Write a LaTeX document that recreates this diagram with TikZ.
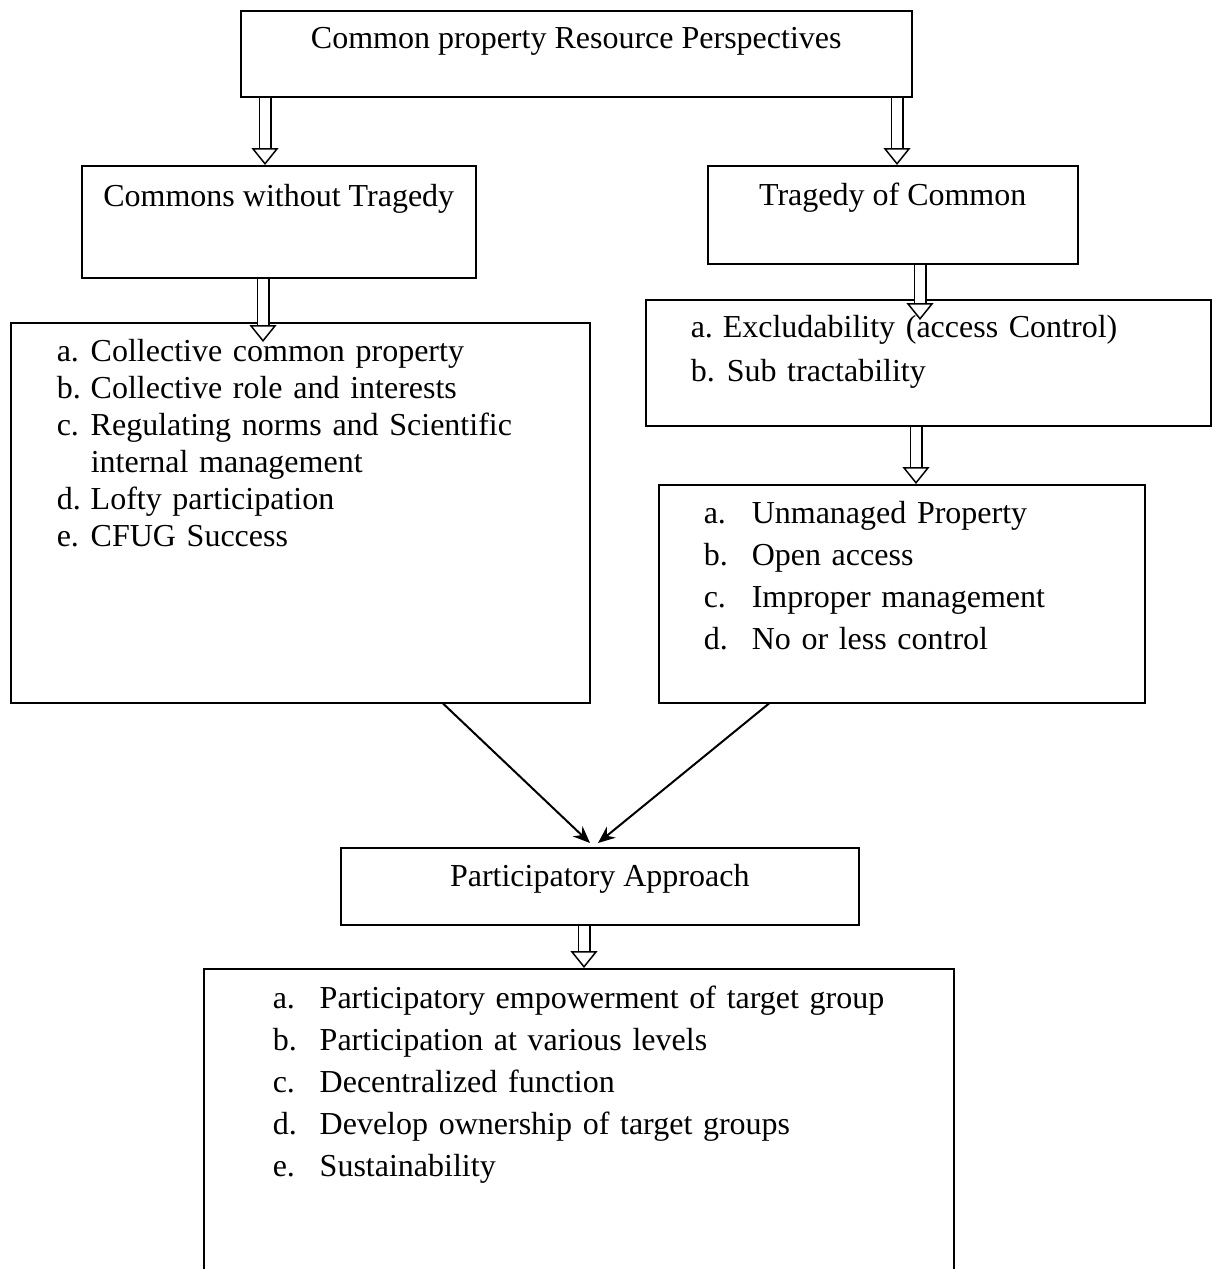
\documentclass[tikz,border=0pt]{standalone}
\usepackage{fontspec}
\setmainfont{Liberation Serif}
\usetikzlibrary{arrows.meta, positioning}
\tikzset{
	box/.style    ={rectangle, draw=black, line width=1.5pt, inner sep=0pt, anchor=north west},
	listbox/.style={box, inner ysep=0pt},
	hollow/.style ={double, double distance=10pt, line width=1.5pt, -{Triangle[open, length=17pt, width=27pt, line width=1.5pt]}},
	link/.style   ={-{Stealth[length=17pt, width=14pt]}, line width=2pt},
}
\newcommand{\cprlist}[2]{\begin{tabular}[t]{@{}p{#1}@{}l@{}}#2\end{tabular}}

\begin{document}
\begin{tikzpicture}[x=1pt, y=-1pt, every node/.style={font=\fontsize{32}{38}\selectfont}]
	\useasboundingbox (0,0) rectangle (1211,1269);
	% boxes
	\node[box, minimum width=671pt, text height=38pt, text depth=48pt] (cpr) at (240,10) {Common property Resource Perspectives};
	\node[box, minimum width=394pt, text height=41pt, text depth=71pt] (cwt) at (81,165) {Commons without Tragedy};
	\node[box, minimum width=370pt, text height=40pt, text depth=58pt] (toc) at (707,165) {Tragedy of Common};
	\node[listbox, inner xsep=46pt, text width=487pt, text height=39pt, text depth=341pt, font=\fontsize{32}{37}\selectfont] (cwtlist) at (10,322)
		{\cprlist{34pt}{a. & Collective common property\\ b. & Collective role and interests\\ c. & Regulating norms and Scientific\\ & internal management\\ d. & Lofty participation\\ e. & CFUG Success}};
	\node[listbox, inner xsep=45pt, text width=475pt, text height=38pt, text depth=88pt, font=\fontsize{32}{44}\selectfont] (toclist) at (645,299)
		{\cprlist{32pt}{a. & Excludability (access Control)\\ b. & \hspace{4pt}Sub tractability}};
	\node[listbox, inner xsep=45pt, text width=396pt, text height=39pt, text depth=179pt, font=\fontsize{32}{42}\selectfont] (unmlist) at (658,484)
		{\cprlist{48pt}{a. & Unmanaged Property\\ b. & Open access\\ c. & Improper management\\ d. & No or less control}};
	\node[box, minimum width=518pt, text height=39pt, text depth=38pt] (pa) at (340,847) {Participatory Approach};
	\node[listbox, inner xsep=69pt, text width=612pt, text height=40pt, text depth=292pt, font=\fontsize{32}{42}\selectfont] (palist) at (203,968)
		{\cprlist{47pt}{a. & Participatory empowerment of target group\\ b. & Participation at various levels\\ c. & Decentralized function\\ d. & Develop ownership of target groups\\ e. & Sustainability}};
	% hollow arrows
	\draw[hollow] ([xshift=25pt, yshift=-0.75pt]cpr.south west) -- ([xshift=184pt]cwt.north west);
	\draw[hollow] ([xshift=657pt, yshift=-0.75pt]cpr.south west) -- ([xshift=190pt]toc.north west);
	\draw[hollow] ([xshift=182pt, yshift=-0.75pt]cwt.south west) -- ([xshift=253pt, yshift=-20pt]cwtlist.north west);
	\draw[hollow] ([xshift=213pt, yshift=-0.75pt]toc.south west) -- ([xshift=275pt, yshift=-21pt]toclist.north west);
	\draw[hollow] ([xshift=271pt, yshift=-0.75pt]toclist.south west) -- ([xshift=258pt]unmlist.north west);
	\draw[hollow] ([xshift=244pt, yshift=-0.75pt]pa.south west) -- ([xshift=381pt]palist.north west);
	% into the approach
	\draw[link] ([xshift=433pt]cwtlist.south west) -- ([xshift=250pt, yshift=4pt]pa.north west);
	\draw[link] ([xshift=111pt]unmlist.south west) -- ([xshift=258pt, yshift=4pt]pa.north west);
\end{tikzpicture}
\end{document}
